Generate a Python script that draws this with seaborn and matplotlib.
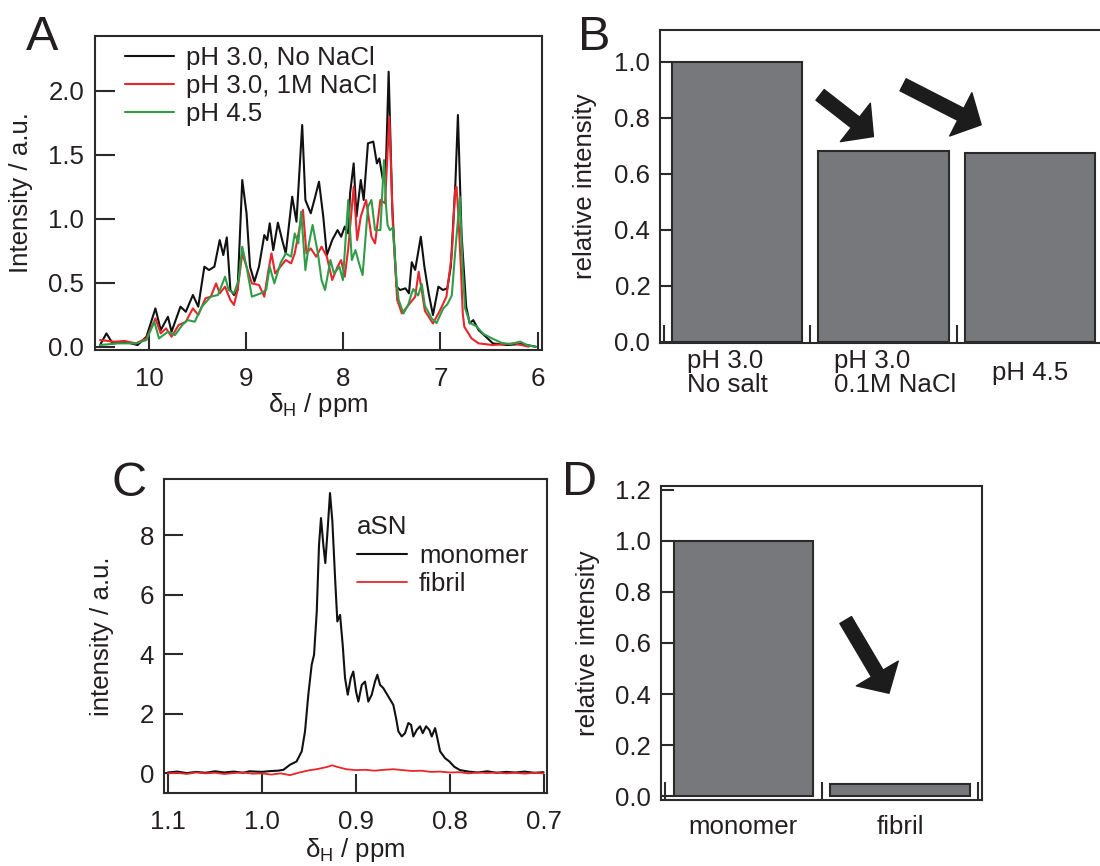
import matplotlib
matplotlib.use("Agg")
import numpy as np
import matplotlib.pyplot as plt
import seaborn as sns
from matplotlib.transforms import ScaledTranslation

# ---------------------------------------------------------------- data
# Panel A: 1H NMR spectra, (ppm, intensity) pairs
a_black = np.array([
    (10.504, 0.013), (10.438, 0.104), (10.375, 0.026), (10.283, 0.039), (10.21, 0.031),
    (10.118, 0.013), (10.026, 0.078), (9.934, 0.299), (9.879, 0.130), (9.805, 0.234),
    (9.768, 0.117), (9.676, 0.313), (9.621, 0.273), (9.548, 0.404), (9.493, 0.313),
    (9.430, 0.625), (9.382, 0.599), (9.327, 0.625), (9.272, 0.833), (9.235, 0.716),
    (9.199, 0.854), (9.162, 0.443), (9.125, 0.404), (9.088, 0.443), (9.040, 1.302),
    (8.996, 1.042), (8.960, 0.625), (8.915, 0.508), (8.868, 0.625), (8.813, 0.872),
    (8.783, 0.833), (8.757, 0.964), (8.721, 0.755), (8.673, 0.969), (8.629, 0.833),
    (8.592, 0.729), (8.526, 1.172), (8.482, 0.977), (8.423, 1.732), (8.390, 1.146),
    (8.335, 1.042), (8.298, 1.146), (8.250, 1.289), (8.206, 1.016), (8.169, 0.716),
    (8.114, 0.833), (8.059, 0.911), (8.022, 0.859), (7.985, 0.938), (7.949, 0.885),
    (7.930, 1.198), (7.893, 1.432), (7.864, 1.016), (7.820, 1.302), (7.790, 1.146),
    (7.746, 1.589), (7.691, 1.602), (7.654, 1.432), (7.629, 1.471), (7.592, 1.302),
    (7.563, 1.354), (7.533, 2.148), (7.496, 1.094), (7.452, 0.469), (7.415, 0.443),
    (7.360, 0.456), (7.324, 0.417), (7.295, 0.660), (7.260, 0.600), (7.202, 0.859),
    (7.165, 0.625), (7.121, 0.417), (7.077, 0.247), (7.021, 0.469), (6.974, 0.443),
    (6.930, 0.456), (6.893, 0.625), (6.846, 1.276), (6.820, 1.810), (6.783, 0.885),
    (6.735, 0.313), (6.699, 0.182), (6.662, 0.208), (6.607, 0.130), (6.533, 0.078),
    (6.460, 0.026), (6.313, 0.013), (6.165, 0.021), (6.018, 0.000),
])
a_red = np.array([
    (10.504, 0.052), (10.357, 0.039), (10.25, 0.045), (10.136, 0.026), (10.026, 0.065),
    (9.934, 0.221), (9.879, 0.104), (9.824, 0.143), (9.768, 0.078), (9.695, 0.169),
    (9.621, 0.195), (9.548, 0.299), (9.493, 0.247), (9.419, 0.378), (9.364, 0.391),
    (9.309, 0.495), (9.272, 0.417), (9.217, 0.469), (9.162, 0.365), (9.125, 0.326),
    (9.088, 0.443), (9.040, 0.729), (8.996, 0.625), (8.941, 0.495), (8.868, 0.482),
    (8.813, 0.391), (8.776, 0.573), (8.739, 0.729), (8.702, 0.573), (8.647, 0.625),
    (8.592, 0.677), (8.537, 0.651), (8.500, 0.729), (8.415, 1.068), (8.379, 0.729),
    (8.335, 0.768), (8.279, 0.703), (8.224, 0.781), (8.169, 0.703), (8.114, 0.521),
    (8.059, 0.625), (8.022, 0.677), (7.985, 0.547), (7.949, 0.768), (7.893, 1.250),
    (7.857, 0.833), (7.820, 1.016), (7.765, 1.146), (7.710, 0.859), (7.673, 0.807),
    (7.618, 1.146), (7.570, 1.120), (7.526, 1.797), (7.489, 0.938), (7.445, 0.365),
    (7.397, 0.260), (7.342, 0.313), (7.287, 0.365), (7.260, 0.390), (7.224, 0.586),
    (7.188, 0.417), (7.160, 0.280), (7.077, 0.182), (7.011, 0.273), (6.938, 0.391),
    (6.882, 0.729), (6.849, 1.220), (6.835, 1.250), (6.820, 1.090), (6.790, 0.625),
    (6.770, 0.260), (6.754, 0.156), (6.680, 0.065), (6.607, 0.026), (6.460, 0.013),
    (6.239, 0.026), (6.092, 0.000),
])
a_green = np.array([
    (10.504, 0.013), (10.320, 0.026), (10.136, 0.026), (10.026, 0.052), (9.945, 0.195),
    (9.897, 0.065), (9.805, 0.117), (9.732, 0.091), (9.658, 0.169), (9.603, 0.208),
    (9.529, 0.195), (9.456, 0.313), (9.364, 0.391), (9.290, 0.404), (9.217, 0.547),
    (9.180, 0.443), (9.125, 0.417), (9.077, 0.521), (9.040, 0.781), (8.996, 0.625),
    (8.941, 0.391), (8.849, 0.417), (8.794, 0.443), (8.757, 0.625), (8.710, 0.495),
    (8.647, 0.651), (8.592, 0.729), (8.537, 0.703), (8.500, 0.885), (8.463, 0.807),
    (8.434, 1.055), (8.390, 0.599), (8.353, 0.807), (8.316, 0.951), (8.261, 0.729),
    (8.224, 0.521), (8.188, 0.443), (8.132, 0.677), (8.096, 0.573), (8.040, 0.625),
    (8.004, 0.521), (7.949, 1.146), (7.912, 0.677), (7.875, 0.755), (7.838, 0.651),
    (7.801, 0.560), (7.746, 1.094), (7.710, 1.146), (7.673, 0.911), (7.618, 0.911),
    (7.581, 1.458), (7.560, 1.100), (7.544, 0.950), (7.520, 0.910), (7.490, 0.930),
    (7.450, 0.500), (7.430, 0.365), (7.380, 0.260), (7.330, 0.330), (7.295, 0.420),
    (7.279, 0.450), (7.230, 0.400), (7.192, 0.490), (7.160, 0.320), (7.089, 0.220),
    (7.040, 0.185), (6.970, 0.300), (6.930, 0.330), (6.883, 0.400), (6.849, 0.730),
    (6.800, 1.170), (6.770, 0.590), (6.746, 0.300), (6.695, 0.185), (6.630, 0.160),
    (6.558, 0.100), (6.470, 0.065), (6.370, 0.030), (6.280, 0.020), (6.180, 0.040),
    (6.100, 0.010), (6.020, 0.000),
])
a_labels = ["pH 3.0, No NaCl", "pH 3.0, 1M NaCl", "pH 4.5"]
a_xticks = [10, 9, 8, 7, 6]
a_yticks = [0.0, 0.5, 1.0, 1.5, 2.0]

# Panel B: relative intensities
b_categories = ["pH 3.0\nNo salt", "pH 3.0\n0.1M NaCl", "pH 4.5"]
b_values = [1.0, 0.682, 0.674]
b_yticks = [0.0, 0.2, 0.4, 0.6, 0.8, 1.0]

# Panel C: aSN methyl region
c_monomer = np.array([
    (1.100, 0.03), (1.090, 0.06), (1.080, 0.01), (1.070, 0.05), (1.060, 0.02),
    (1.050, 0.07), (1.040, 0.03), (1.030, 0.06), (1.020, 0.02), (1.013, 0.07),
    (1.000, 0.05), (0.990, 0.08), (0.983, 0.09), (0.977, 0.12), (0.970, 0.29),
    (0.963, 0.40), (0.9575, 0.74), (0.954, 1.41), (0.9505, 2.64), (0.9469, 3.65),
    (0.9444, 3.98), (0.9415, 5.44), (0.9391, 7.67), (0.9370, 8.57), (0.9345, 7.67),
    (0.9324, 7.06), (0.9298, 8.24), (0.9274, 9.41), (0.9249, 8.46), (0.9220, 6.56),
    (0.9196, 5.10), (0.9167, 5.32), (0.9139, 4.32), (0.9114, 3.20), (0.9085, 2.64),
    (0.9053, 3.20), (0.9026, 3.42), (0.8997, 2.75), (0.8972, 2.41), (0.8936, 2.97),
    (0.8901, 3.08), (0.8866, 2.41), (0.8830, 2.64), (0.8795, 3.08), (0.8770, 3.31),
    (0.8741, 2.97), (0.8706, 2.86), (0.8653, 2.58), (0.8600, 2.30), (0.8571, 1.86),
    (0.8546, 1.41), (0.8510, 1.24), (0.8475, 1.35), (0.8440, 1.69), (0.8411, 1.63),
    (0.8387, 1.24), (0.8350, 1.46), (0.8315, 1.58), (0.8287, 1.35), (0.8251, 1.58),
    (0.8216, 1.46), (0.8191, 1.24), (0.8155, 1.52), (0.8131, 1.18), (0.8102, 0.74),
    (0.8049, 0.51), (0.8003, 0.40), (0.7950, 0.22), (0.7890, 0.11), (0.7800, 0.06),
    (0.7700, 0.03), (0.7600, 0.07), (0.7500, 0.02), (0.7400, 0.05), (0.7300, 0.03),
    (0.7200, 0.06), (0.7100, 0.02), (0.7000, 0.04),
])
c_fibril = np.array([
    (1.10, 0.00), (1.09, 0.02), (1.08, -0.02), (1.07, 0.03), (1.06, 0.00),
    (1.05, 0.02), (1.04, -0.02), (1.03, 0.01), (1.02, 0.03), (1.01, -0.01),
    (1.00, 0.00), (0.99, -0.04), (0.98, 0.00), (0.97, -0.06), (0.96, 0.03),
    (0.95, 0.10), (0.94, 0.15), (0.93, 0.22), (0.925, 0.27), (0.92, 0.22),
    (0.91, 0.14), (0.90, 0.11), (0.89, 0.12), (0.88, 0.09), (0.87, 0.12),
    (0.86, 0.14), (0.85, 0.11), (0.84, 0.08), (0.83, 0.09), (0.82, 0.05),
    (0.81, 0.06), (0.80, 0.03), (0.79, 0.04), (0.78, 0.00), (0.77, 0.03),
    (0.76, 0.01), (0.75, 0.03), (0.74, 0.00), (0.73, 0.02), (0.72, -0.01),
    (0.71, 0.02), (0.70, 0.00),
])
c_labels = ["monomer", "fibril"]
c_xticks = [1.1, 1.0, 0.9, 0.8, 0.7]
c_yticks = [0, 2, 4, 6, 8]

# Panel D: relative intensities
d_categories = ["monomer", "fibril"]
d_values = [1.0, 0.046]
d_yticks = [0.0, 0.2, 0.4, 0.6, 0.8, 1.0, 1.2]

# ---------------------------------------------------------------- style
sns.set_style("white")
FS = 18.6
TXT = "#231f20"
EDGE = "#2a2a2a"
plt.rcParams.update({
    "font.family": ["Liberation Sans", "DejaVu Sans"],
    "mathtext.fontset": "custom",
    "mathtext.rm": "Liberation Sans",
    "mathtext.it": "Liberation Sans:italic",
    "mathtext.bf": "Liberation Sans:bold",
    "axes.linewidth": 1.5,
    "axes.edgecolor": EDGE,
    "text.color": TXT,
    "axes.labelcolor": TXT,
    "xtick.color": EDGE,
    "ytick.color": EDGE,
    "xtick.labelcolor": TXT,
    "ytick.labelcolor": TXT,
    "xtick.bottom": True,
    "ytick.left": True,
    "xtick.top": False,
    "ytick.right": False,
})

BAR = "#77787c"
COLS = ["#111111", "#e8262b", "#2f9d48"]

fig = plt.figure(figsize=(11, 8.66), dpi=100)

# ---------------------------------------------------------------- panel A
axA = fig.add_axes([0.0867, 0.5958, 0.4058, 0.3626])
for arr, col, lab in zip([a_black, a_red, a_green], COLS, a_labels):
    sns.lineplot(x=arr[:, 0], y=arr[:, 1], color=col, lw=1.5, label=lab,
                 estimator=None, ax=axA)
axA.set_xlim(10.552, 5.957)
axA.set_ylim(-0.026, 2.427)
axA.set_xticks(a_xticks)
axA.set_xticklabels([str(t) for t in a_xticks])
axA.set_yticks(a_yticks)
axA.set_yticklabels([f"{t:.1f}" for t in a_yticks])
axA.tick_params(axis="x", direction="in", length=13, width=1.5, labelsize=FS, pad=12)
axA.tick_params(axis="y", direction="in", length=14.5, width=1.5, labelsize=FS, pad=8)
axA.set_xlabel("δ$_{\\mathregular{H}}$ / ppm", fontsize=FS)
axA.set_ylabel("Intensity / a.u.", fontsize=FS)
axA.xaxis.set_label_coords(0.5, -0.13)
axA.yaxis.set_label_coords(-0.14, 0.5)
axA.legend(loc="upper left", bbox_to_anchor=(0.066, 0.968), frameon=False,
           fontsize=FS, handlelength=1.9, handletextpad=0.45, labelspacing=0.16,
           borderaxespad=0, borderpad=0)

# ---------------------------------------------------------------- panel B
axB = fig.add_axes([0.6, 0.6036, 0.4064, 0.3618])
sns.barplot(x=b_categories, y=b_values, color=BAR, saturation=1, width=0.89,
            edgecolor=EDGE, linewidth=1.5, ax=axB)
axB.set_xlim(-0.529, 2.529)
axB.set_ylim(-0.006, 1.114)
axB.set_xticks([-0.5, 0.5, 1.5, 2.5])
axB.set_xticklabels([])
axB.set_xticks([0, 1, 2], minor=True)
axB.set_xticklabels(b_categories, minor=True)
axB.set_yticks(b_yticks)
axB.set_yticklabels([f"{t:.1f}" for t in b_yticks])
axB.set_yticks([0.0, 1.0], minor=True)
axB.tick_params(axis="x", which="major", direction="in", length=13, width=1.5)
axB.tick_params(axis="x", which="minor", length=0, labelsize=FS, pad=21.5)
axB.tick_params(axis="y", which="major", direction="in", length=8.5, width=1.5,
                labelsize=FS, pad=7)
axB.tick_params(axis="y", which="minor", direction="in", length=14, width=1.5)
axB.set_ylabel("relative intensity", fontsize=FS)
axB.yaxis.set_label_coords(-0.141, 0.5)
axB.set_xlabel("")
arrow_style = "simple,head_length=1.65,head_width=3.5,tail_width=0.97"
for (x0, y0), (x1, y1) in [((0.566, 0.882), (0.931, 0.733)),
                           ((1.134, 0.918), (1.668, 0.775))]:
    axB.annotate("", xy=(x1, y1), xytext=(x0, y0),
                 arrowprops=dict(arrowstyle=arrow_style, color="#1c1c1c",
                                 shrinkA=0, shrinkB=0, mutation_scale=10))

# ---------------------------------------------------------------- panel C
axC = fig.add_axes([0.1494, 0.0839, 0.348, 0.3626])
sns.lineplot(x=c_monomer[:, 0], y=c_monomer[:, 1], color=COLS[0], lw=1.5,
             label=c_labels[0], estimator=None, ax=axC)
sns.lineplot(x=c_fibril[:, 0], y=c_fibril[:, 1], color=COLS[1], lw=1.3,
             label=c_labels[1], estimator=None, ax=axC)
axC.set_xlim(1.1038, 0.6962)
axC.set_ylim(-0.67, 9.87)
axC.set_xticks(c_xticks)
axC.set_xticklabels([f"{t:.1f}" for t in c_xticks])
axC.set_yticks(c_yticks)
axC.set_yticklabels([str(t) for t in c_yticks])
axC.tick_params(axis="x", direction="in", length=14, width=1.5, labelsize=FS, pad=12)
axC.tick_params(axis="y", direction="in", length=14, width=1.5, labelsize=FS, pad=7.5)
axC.set_xlabel("δ$_{\\mathregular{H}}$ / ppm", fontsize=FS)
axC.set_ylabel("intensity / a.u.", fontsize=FS)
axC.xaxis.set_label_coords(0.5, -0.135)
axC.yaxis.set_label_coords(-0.1324, 0.5)
axC.legend(loc="upper left", bbox_to_anchor=(0.503, 0.885), frameon=False,
           title="aSN", title_fontsize=FS, alignment="left",
           fontsize=FS, handlelength=1.95, handletextpad=0.45, labelspacing=0.16,
           borderaxespad=0, borderpad=0)

# ---------------------------------------------------------------- panel D
axD = fig.add_axes([0.6005, 0.0762, 0.292, 0.363])
sns.barplot(x=d_categories, y=d_values, color=BAR, saturation=1, width=0.89,
            edgecolor=EDGE, linewidth=1.5, ax=axD)
axD.set_xlim(-0.528, 1.521)
axD.set_ylim(-0.0157, 1.217)
axD.set_xticks([-0.5, 0.5, 1.5])
axD.set_xticklabels([])
axD.set_xticks([0, 1], minor=True)
axD.set_xticklabels(d_categories, minor=True)
axD.set_yticks(d_yticks)
axD.set_yticklabels([f"{t:.1f}" for t in d_yticks])
axD.set_yticks([0.0, 1.2], minor=True)
axD.tick_params(axis="x", which="major", direction="in", length=13, width=1.5)
axD.tick_params(axis="x", which="minor", length=0, labelsize=FS, pad=19.5)
axD.tick_params(axis="y", which="major", direction="in", length=9.4, width=1.5,
                labelsize=FS, pad=6.7)
axD.tick_params(axis="y", which="minor", direction="in", length=14.4, width=1.5)
axD.set_ylabel("relative intensity", fontsize=FS)
axD.yaxis.set_label_coords(-0.19, 0.5)
axD.set_xlabel("")
axD.annotate("", xy=(0.929, 0.403), xytext=(0.653, 0.690),
             arrowprops=dict(arrowstyle=arrow_style, color="#1c1c1c",
                             shrinkA=0, shrinkB=0, mutation_scale=10))

# category labels: vertically centred, first two left-aligned blocks
for lab in axB.get_xticklabels(minor=True):
    lab.set_va("center")
    lab.set_linespacing(1.0)
    lab.set_multialignment("left")
for lab, dx in zip(axB.get_xticklabels(minor=True), [-50, -50, 0]):
    if dx:
        lab.set_ha("left")
        lab.set_transform(lab.get_transform() +
                          ScaledTranslation(dx / 100, 0, fig.dpi_scale_trans))
for lab in axD.get_xticklabels(minor=True):
    lab.set_va("center")

# panel letters
for x, y, s in [(26, 50, "A"), (578, 50, "B"), (111, 496, "C"), (562, 495, "D")]:
    fig.text(x / 1100, 1 - y / 866, s, fontsize=35, ha="left", va="baseline")

fig.savefig("out.png", dpi=100)
